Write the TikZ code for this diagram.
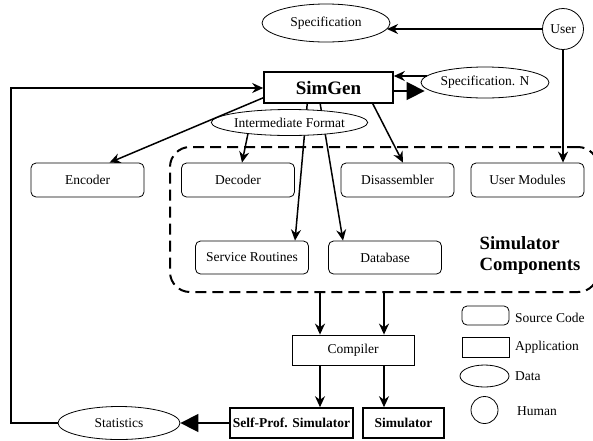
\documentclass[tikz,border=0pt]{standalone}
\usepackage{fontspec}
\setmainfont{Liberation Serif}
\usetikzlibrary{arrows.meta,calc,shapes.geometric}
\begin{document}
\begin{tikzpicture}[x=1pt,y=-1pt,
  font=\fontsize{13.5}{15}\selectfont,
  src/.style={draw,rounded corners=5pt,minimum width=113pt,minimum height=34pt,inner sep=0pt,line width=0.8pt},
  app/.style={draw,rectangle,minimum height=30pt,inner sep=0pt,line width=0.8pt},
  appb/.style={app,line width=1.6pt,font=\fontsize{13.5}{15}\selectfont\bfseries},
  data/.style={draw,ellipse,inner sep=0pt,line width=0.8pt,fill=white},
  human/.style={draw,circle,inner sep=0pt,line width=0.8pt},
  arr/.style={line width=1.5pt,-{Stealth[length=11pt,width=10pt]}},
  bigarr/.style={line width=1.5pt,-{Triangle[length=18pt,width=18pt]}},
  grpbox/.style={draw,rounded corners=20pt,line width=2pt,dash pattern=on 11pt off 6pt,inner sep=0pt},
  legtext/.style={anchor=west,inner sep=0pt},
]
\useasboundingbox (0,0) rectangle (593,440);

% top
\node[data,minimum width=128pt,minimum height=38pt] (spec) at (326,23) {Specification};
\node[human,minimum size=41pt] (user) at (563,29) {User};
\node[app,line width=1.6pt,minimum width=129pt,minimum height=31pt,font=\fontsize{19}{21}\selectfont\bfseries] (simgen) at (328.5,87.5) {SimGen};
\node[data,minimum width=128pt,minimum height=31pt] (specn) at (485,82.5) {Specification. N};

% group box
\node[grpbox,minimum width=428pt,minimum height=145pt] (grp) at (384,219.5) {};

% component boxes
\node[src] (enc) at (87.5,180) {Encoder};
\node[src] (dec) at (238,180) {Decoder};
\node[src] (dis) at (397.5,180) {Disassembler};
\node[src] (um) at (527.5,180) {User Modules};
\node[src,minimum height=33pt] (sr) at (252,257.5) {Service Routines};
\node[src,minimum height=33pt] (db) at (385,257.5) {Database};
\node[font=\fontsize{18.7}{21}\selectfont\bfseries,align=left,inner sep=0pt] (sc) at (530,255) {Simulator\\Components};

% lines through intermediate format
\coordinate (s1) at ($(simgen.south west)+(44,0)$);
\coordinate (s2) at ($(simgen.south west)+(57,0)$);
\draw[arr] (s1) -- ($(sr.north)+(43,0)$);
\draw[arr] (s2) -- ($(db.north)+(-42,0)$);
\node[data,minimum width=153pt,minimum height=26pt] (if) at (289.5,122.5) {Intermediate Format};

% other top arrows
\coordinate (sp1) at ($(spec.center)+(61,6)$);
\draw[arr] (user.west) -- (sp1);
\draw[arr] (user.south) -- (user.south |- um.north);
\coordinate (a1) at ($(specn.center)+(-58,-6.5)$);
\draw[arr] (a1) -- (a1 -| simgen.east);
\coordinate (a2) at ($(simgen.east)+(0,3.5)$);
\coordinate (a3) at ($(specn.west)+(4,8.5)$);
\draw[bigarr] (a2) -- (a3);
\draw[arr] ($(simgen.south west)+(0,-6)$) -- ($(enc.north)+(22,0)$);
\draw[arr] ($(if.center)+(-41.5,10.9)$) -- ($(dec.north)+(4,0)$);
\draw[arr] ($(simgen.south east)+(-21,0)$) -- ($(dis.north)+(5.5,0)$);

% compiler and simulators
\node[app,minimum width=122pt] (comp) at (353,350) {Compiler};
\node[appb,minimum width=123pt] (spsim) at (291.5,423) {Self-Prof. Simulator};
\node[appb,minimum width=81pt] (sim) at (403.5,423) {Simulator};
\node[data,minimum width=122pt,minimum height=33pt] (stat) at (119,423) {Statistics};

\coordinate (c1) at ($(comp.north)+(-33,0)$);
\coordinate (c2) at ($(comp.north)+(31,0)$);
\draw[arr] (c1 |- grp.south) -- (c1);
\draw[arr] (c2 |- grp.south) -- (c2);
\draw[arr] (comp.south -| c1) -- (c1 |- spsim.north);
\draw[arr] (comp.south -| c2) -- (c2 |- sim.north);
\draw[bigarr] (spsim.west) -- (stat.east);
\coordinate (fb) at (11,88);
\draw[arr] (stat.west) -| (fb) -- (fb -| simgen.west);

% legend
\node[src,minimum width=47pt,minimum height=19pt] (lsrc) at (485.5,315.5) {};
\node[app,minimum width=47pt,minimum height=20pt] (lapp) at (485.5,347) {};
\node[data,minimum width=49pt,minimum height=22pt] (ldata) at (484.5,376) {};
\node[human,minimum size=27pt] (lhum) at (484.5,410) {};
\node[legtext] (tsrc) at (515,318) {Source Code};
\node[legtext] (tapp) at (515,347.5) {Application};
\node[legtext] (tdata) at (515,376.5) {Data};
\node[legtext] (thum) at (517,411.5) {Human};
\end{tikzpicture}
\end{document}
